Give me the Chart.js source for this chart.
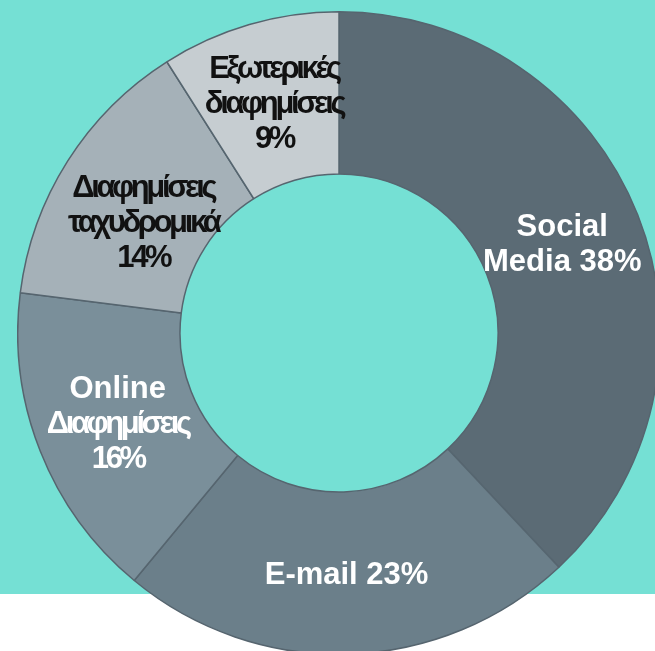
<!DOCTYPE html>
<html lang="el">
<head>
    <meta charset="UTF-8">
    <title>Κανάλια προώθησης</title>
    <style>
        html, body {
            margin: 0;
            padding: 0;
            width: 655px;
            height: 651px;
            overflow: hidden;
            background: #ffffff;
        }
        .fondo {
            position: absolute;
            left: 0;
            top: 0;
            width: 655px;
            height: 594px;
            background: #75e0d4;
        }
        #grafico {
            position: absolute;
            left: 17px;
            top: 11px;
        }
    </style>
    <script src="https://cdn.jsdelivr.net/npm/chart.js"></script>
</head>
<body>
    <div class="fondo"></div>
    <canvas id="grafico" width="644" height="644"></canvas>
    <script>
        // categorías y porcentajes, en sentido horario desde arriba
        const categorias = [
            ['Social', 'Media 38%'],
            ['E-mail 23%'],
            ['Online', 'Διαφημίσεις', '16%'],
            ['Διαφημίσεις', 'ταχυδρομικά', '14%'],
            ['Εξωτερικές', 'διαφημίσεις', '9%']
        ];
        const valores = [38, 23, 16, 14, 9];
        const colores = ['#5b6b75', '#6b7f8a', '#7a8f9a', '#a5b1b8', '#c6cdd1'];
        const coloresTexto = ['#ffffff', '#ffffff', '#ffffff', '#111111', '#111111'];

        const griego = /[\u0370-\u03FF\u1F00-\u1FFF]/;

        // escribe las etiquetas dentro de cada sector
        const etiquetas = {
            id: 'etiquetas',
            afterDatasetsDraw(chart, args, opts) {
                const ctx = chart.ctx;
                const arcos = chart.getDatasetMeta(0).data;
                ctx.save();
                ctx.font = 'bold 31px "Liberation Sans", Arial, sans-serif';
                ctx.textAlign = 'center';
                ctx.textBaseline = 'middle';
                arcos.forEach((arco, i) => {
                    const pos = arco.tooltipPosition();
                    const ajuste = opts.ajustes[i] || [0, 0];
                    const lineas = categorias[i];
                    const conGriego = lineas.some(t => griego.test(t));
                    const alto = 35;
                    ctx.fillStyle = coloresTexto[i];
                    lineas.forEach((txt, j) => {
                        // las etiquetas en griego van más apretadas
                        const apretar = conGriego && (griego.test(txt) || /%/.test(txt));
                        ctx.letterSpacing = apretar ? '-3.4px' : '0px';
                        const y = pos.y + ajuste[1] + (j - (lineas.length - 1) / 2) * alto;
                        ctx.fillText(txt, pos.x + ajuste[0], y);
                    });
                });
                ctx.restore();
            }
        };

        new Chart(document.getElementById('grafico'), {
            type: 'doughnut',
            data: {
                labels: categorias.map(c => c.join(' ')),
                datasets: [{
                    data: valores,
                    backgroundColor: colores,
                    borderColor: '#56656f',
                    borderWidth: 1.5
                }]
            },
            options: {
                responsive: false,
                animation: false,
                cutout: '49.5%',
                plugins: {
                    legend: { display: false },
                    tooltip: { enabled: false },
                    etiquetas: {
                        ajustes: [[0, 0], [0, 2], [2, 3], [7, 19], [2, 2]]
                    }
                }
            },
            plugins: [etiquetas]
        });
    </script>
</body>
</html>
